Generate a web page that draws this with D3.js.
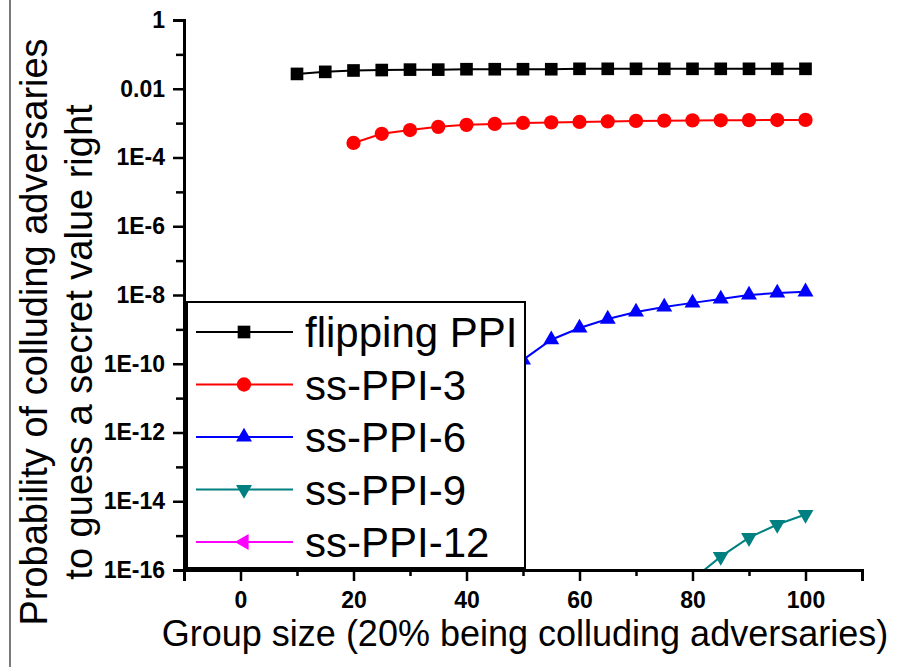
<!DOCTYPE html>
<html>
<head>
<meta charset="utf-8">
<script src="https://cdn.jsdelivr.net/npm/d3@7"></script>
<style>
  body { margin: 0; background: #fff; }
  svg { display: block; font-family: "Liberation Sans", Arial, sans-serif; }
</style>
</head>
<body>
<svg id="chart" width="898" height="667"></svg>
<script>
// group sizes on the x axis (20% of the group are colluding adversaries)
const groupSizes = [10, 15, 20, 25, 30, 35, 40, 45, 50, 55, 60, 65, 70, 75, 80, 85, 90, 95, 100];

// probabilities, null where a series has no point
const flippingPPI = [0.027, 0.031, 0.034, 0.035, 0.036, 0.036, 0.037, 0.037, 0.037, 0.037,
  0.038, 0.038, 0.038, 0.038, 0.038, 0.038, 0.038, 0.038, 0.038];
const ssPPI3 = [null, null, 2.65e-4, 4.9e-4, 6.3e-4, 7.8e-4, 8.9e-4, 9.5e-4, 1.01e-3, 1.05e-3,
  1.08e-3, 1.12e-3, 1.16e-3, 1.18e-3, 1.2e-3, 1.21e-3, 1.22e-3, 1.23e-3, 1.24e-3];
const ssPPI6 = [null, null, null, null, null, 1e-13, 3e-12, 2.5e-11, 1.3e-10, 5.0e-10,
  1.1e-9, 2.0e-9, 3.2e-9, 4.5e-9, 5.9e-9, 7.7e-9, 1.0e-8, 1.15e-8, 1.24e-8];
const ssPPI9 = [null, null, null, null, null, null, null, null, 1e-24, 3e-22,
  2e-20, 4e-19, 2.5e-18, 1e-17, 5.3e-17, 2.45e-16, 8.7e-16, 2.1e-15, 4.1e-15];
const ssPPI12 = [null, null, null, null, null, null, null, null, null, null,
  null, 1e-30, 1e-28, 3e-27, 4e-26, 3e-25, 2e-24, 8e-24, 2.5e-23];

const seriesNames = ["flipping PPI", "ss-PPI-3", "ss-PPI-6", "ss-PPI-9", "ss-PPI-12"];
const seriesValues = [flippingPPI, ssPPI3, ssPPI6, ssPPI9, ssPPI12];
const seriesColors = ["#000000", "#ff0000", "#0000ff", "#008080", "#ff00ff"];

const xMajorTicks = [0, 20, 40, 60, 80, 100];
const xMinorTicks = [10, 30, 50, 70, 90, 110];
const yExponents = d3.range(-16, 1);

const svg = d3.select("#chart");

const x = d3.scaleLinear().domain([-10, 110]).range([184, 862]);
const y = d3.scaleLog().domain([1e-16, 1]).range([570, 20]);

// marker shapes per series
const symbols = [
  { type: d3.symbolSquare, size: 160, rotate: 0 },
  { type: d3.symbolCircle, size: 160, rotate: 0 },
  { type: d3.symbolTriangle, size: 110, rotate: 0 },
  { type: d3.symbolTriangle, size: 110, rotate: 180 },
  { type: d3.symbolTriangle, size: 110, rotate: -90 }
];

// frame edge on the far left
svg.append("line")
  .attr("x1", 10).attr("x2", 10)
  .attr("y1", 0).attr("y2", 667)
  .attr("stroke", "#7a7a7a")
  .attr("stroke-width", 2);

svg.append("clipPath").attr("id", "plot-clip")
  .append("rect")
  .attr("x", x(-10)).attr("y", y(1) - 10)
  .attr("width", x(110) - x(-10) + 10)
  .attr("height", y(1e-16) - y(1) + 10);

const plot = svg.append("g").attr("clip-path", "url(#plot-clip)");

seriesValues.forEach((vals, i) => {
  const pts = groupSizes.map((g, j) => ({ g, v: vals[j] })).filter(d => d.v != null);
  const line = d3.line().x(d => x(d.g)).y(d => y(d.v));

  plot.append("path")
    .datum(pts)
    .attr("fill", "none")
    .attr("stroke", seriesColors[i])
    .attr("stroke-width", 2)
    .attr("d", line);

  const sym = symbols[i];
  plot.selectAll(null)
    .data(pts)
    .join("path")
    .attr("transform", d => `translate(${x(d.g)},${y(d.v)}) rotate(${sym.rotate})`)
    .attr("d", d3.symbol().type(sym.type).size(sym.size))
    .attr("fill", seriesColors[i]);
});

// axes: minor ticks first, then major ticks with labels
const yMinor = d3.axisLeft(y)
  .tickValues(yExponents.filter(e => e % 2 !== 0).map(e => Math.pow(10, e)))
  .tickSize(8)
  .tickFormat("");
const yMajor = d3.axisLeft(y)
  .tickValues(yExponents.filter(e => e % 2 === 0).map(e => Math.pow(10, e)))
  .tickSize(11)
  .tickPadding(8)
  .tickFormat(v => {
    const e = Math.round(Math.log10(v));
    if (e === 0) return "1";
    if (e === -2) return "0.01";
    return "1E" + e;
  });

const xMinor = d3.axisBottom(x).tickValues(xMinorTicks).tickSize(6).tickFormat("");
const xMajor = d3.axisBottom(x).tickValues(xMajorTicks).tickSize(11).tickPadding(11);

function styleAxis(g) {
  g.select(".domain").attr("stroke-width", 3);
  g.selectAll(".tick line").attr("stroke-width", 2.5);
  g.selectAll(".tick text")
    .attr("font-family", "'Liberation Sans', Arial, sans-serif")
    .attr("font-size", 23)
    .attr("font-weight", "bold")
    .attr("fill", "#000");
}

svg.append("g").attr("transform", `translate(${x(-10)},0)`).call(yMinor).call(styleAxis);
svg.append("g").attr("transform", `translate(${x(-10)},0)`).call(yMajor).call(styleAxis);
svg.append("g").attr("transform", `translate(0,${y(1e-16)})`).call(xMinor).call(styleAxis);
svg.append("g").attr("transform", `translate(0,${y(1e-16)})`).call(xMajor).call(styleAxis);

// axis titles
svg.append("text")
  .attr("x", 525).attr("y", 646)
  .attr("text-anchor", "middle")
  .attr("font-size", 36)
  .text("Group size (20% being colluding adversaries)");

svg.append("text")
  .attr("transform", "translate(47,332) rotate(-90)")
  .attr("text-anchor", "middle")
  .attr("font-size", 38)
  .text("Probability of colluding adversaries");

svg.append("text")
  .attr("transform", "translate(92,342) rotate(-90)")
  .attr("text-anchor", "middle")
  .attr("font-size", 38)
  .text("to guess a secret value right");

// legend box sits on top of the curves
const legend = svg.append("g");
legend.append("rect")
  .attr("x", 187).attr("y", 302)
  .attr("width", 338).attr("height", 266)
  .attr("fill", "#fff")
  .attr("stroke", "#000")
  .attr("stroke-width", 2);

seriesNames.forEach((name, i) => {
  const cy = 332 + i * 52.5;
  const row = legend.append("g");
  row.append("line")
    .attr("x1", 196).attr("x2", 293)
    .attr("y1", cy).attr("y2", cy)
    .attr("stroke", seriesColors[i])
    .attr("stroke-width", 2);
  row.append("path")
    .attr("transform", `translate(244,${cy}) rotate(${symbols[i].rotate})`)
    .attr("d", d3.symbol().type(symbols[i].type).size(symbols[i].size))
    .attr("fill", seriesColors[i]);
  row.append("text")
    .attr("x", 305).attr("y", cy + 15)
    .attr("font-size", 42)
    .text(name);
});
</script>
</body>
</html>
